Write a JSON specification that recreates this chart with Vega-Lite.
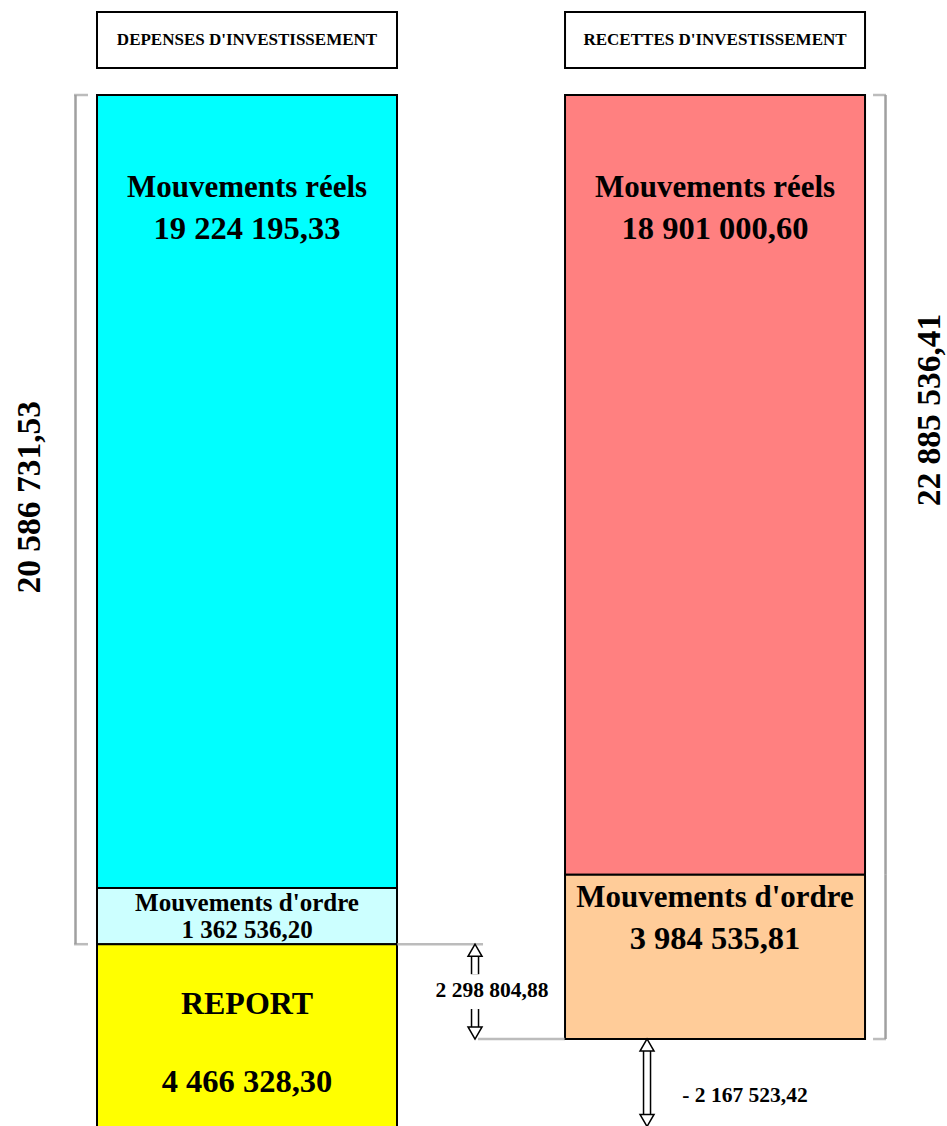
{
  "$schema": "https://vega.github.io/schema/vega-lite/v6.json",
  "width": 947,
  "height": 1126,
  "autosize": "none",
  "padding": 0,
  "background": "white",
  "config": {"view": {"stroke": null}, "font": "Liberation Serif", "text": {"font": "Liberation Serif", "fontWeight": "bold", "color": "black", "baseline": "middle", "align": "center"}},
  "datasets": {
    "segments": [
      {"side": "DEPENSES D'INVESTISSEMENT", "segment": "Mouvements réels", "key": "dep_reels", "order": 1, "value": 19224195.33, "amount": "19 224 195,33"},
      {"side": "DEPENSES D'INVESTISSEMENT", "segment": "Mouvements d'ordre", "key": "dep_ordre", "order": 2, "value": 1362536.20, "amount": "1 362 536,20"},
      {"side": "DEPENSES D'INVESTISSEMENT", "segment": "REPORT", "key": "dep_report", "order": 3, "value": 4466328.30, "amount": "4 466 328,30"},
      {"side": "RECETTES D'INVESTISSEMENT", "segment": "Mouvements réels", "key": "rec_reels", "order": 1, "value": 18901000.60, "amount": "18 901 000,60"},
      {"side": "RECETTES D'INVESTISSEMENT", "segment": "Mouvements d'ordre", "key": "rec_ordre", "order": 2, "value": 3984535.81, "amount": "3 984 535,81"}
    ],
    "totals": [
      {"side": "DEPENSES D'INVESTISSEMENT", "total": 20586731.53, "label": "20 586 731,53"},
      {"side": "RECETTES D'INVESTISSEMENT", "total": 22885536.41, "label": "22 885 536,41"}
    ],
    "gaps": [
      {"name": "ecart", "side": "RECETTES D'INVESTISSEMENT", "from": 20586731.53, "to": 22885536.41, "label": "2 298 804,88"},
      {"name": "solde", "side": "RECETTES D'INVESTISSEMENT", "from": 22885536.41, "to": 25053059.83, "label": "- 2 167 523,42"}
    ]
  },
  "layer": [
    {
      "data": {"name": "segments"},
      "transform": [{"stack": "value", "groupby": ["side"], "sort": [{"field": "order", "order": "ascending"}], "as": ["v0", "v1"]}],
      "mark": {"type": "rect", "stroke": "black", "strokeWidth": 2},
      "encoding": {
        "x": {"field": "side", "type": "nominal", "scale": {"domain": ["DEPENSES D'INVESTISSEMENT", "RECETTES D'INVESTISSEMENT"], "paddingInner": 0.359, "paddingOuter": 0.1912, "align": 0.542}, "axis": null},
        "y": {"field": "v0", "type": "quantitative", "scale": {"domain": [-2303030, 24993940], "reverse": true, "nice": false, "zero": false}, "axis": null},
        "y2": {"field": "v1"},
        "color": {"field": "key", "type": "nominal", "scale": {"domain": ["dep_reels", "dep_ordre", "dep_report", "rec_reels", "rec_ordre"], "range": ["#00FFFF", "#CCFFFF", "#FFFF00", "#FF8080", "#FFCC99"]}, "legend": null}
      }
    },
    {
      "data": {"name": "segments"},
      "transform": [{"stack": "value", "groupby": ["side"], "sort": [{"field": "order", "order": "ascending"}], "as": ["v0", "v1"]}, {"filter": "datum.order == 1"}],
      "mark": {"type": "rect", "fill": "white", "stroke": "black", "strokeWidth": 2, "yOffset": -83, "y2Offset": -27},
      "encoding": {
        "x": {"field": "side", "type": "nominal", "axis": null},
        "y": {"field": "v0", "type": "quantitative", "scale": {"domain": [-2303030, 24993940], "reverse": true, "nice": false, "zero": false}, "axis": null},
        "y2": {"field": "v0"}
      }
    },
    {
      "data": {"name": "segments"},
      "transform": [{"stack": "value", "groupby": ["side"], "sort": [{"field": "order", "order": "ascending"}], "as": ["v0", "v1"]}, {"filter": "datum.order == 1"}],
      "mark": {"type": "text", "fontSize": 17, "yOffset": -55},
      "encoding": {
        "x": {"field": "side", "type": "nominal", "axis": null},
        "y": {"field": "v0", "type": "quantitative", "scale": {"domain": [-2303030, 24993940], "reverse": true, "nice": false, "zero": false}, "axis": null},
        "text": {"field": "side"}
      }
    },
    {
      "data": {"name": "segments"},
      "transform": [{"stack": "value", "groupby": ["side"], "sort": [{"field": "order", "order": "ascending"}], "as": ["v0", "v1"]}, {"filter": "datum.order == 1"}],
      "mark": {"type": "text", "fontSize": 31, "yOffset": 93},
      "encoding": {
        "x": {"field": "side", "type": "nominal", "axis": null},
        "y": {"field": "v0", "type": "quantitative", "scale": {"domain": [-2303030, 24993940], "reverse": true, "nice": false, "zero": false}, "axis": null},
        "text": {"field": "segment"}
      }
    },
    {
      "data": {"name": "segments"},
      "transform": [{"stack": "value", "groupby": ["side"], "sort": [{"field": "order", "order": "ascending"}], "as": ["v0", "v1"]}, {"filter": "datum.order == 1"}],
      "mark": {"type": "text", "fontSize": 32.5, "yOffset": 134},
      "encoding": {
        "x": {"field": "side", "type": "nominal", "axis": null},
        "y": {"field": "v0", "type": "quantitative", "scale": {"domain": [-2303030, 24993940], "reverse": true, "nice": false, "zero": false}, "axis": null},
        "text": {"field": "amount"}
      }
    },
    {
      "data": {"name": "segments"},
      "transform": [{"stack": "value", "groupby": ["side"], "sort": [{"field": "order", "order": "ascending"}], "as": ["v0", "v1"]}, {"filter": "datum.key == 'dep_ordre'"}],
      "mark": {"type": "text", "fontSize": 25, "yOffset": 15},
      "encoding": {
        "x": {"field": "side", "type": "nominal", "axis": null},
        "y": {"field": "v0", "type": "quantitative", "scale": {"domain": [-2303030, 24993940], "reverse": true, "nice": false, "zero": false}, "axis": null},
        "text": {"field": "segment"}
      }
    },
    {
      "data": {"name": "segments"},
      "transform": [{"stack": "value", "groupby": ["side"], "sort": [{"field": "order", "order": "ascending"}], "as": ["v0", "v1"]}, {"filter": "datum.key == 'dep_ordre'"}],
      "mark": {"type": "text", "fontSize": 25, "yOffset": 42},
      "encoding": {
        "x": {"field": "side", "type": "nominal", "axis": null},
        "y": {"field": "v0", "type": "quantitative", "scale": {"domain": [-2303030, 24993940], "reverse": true, "nice": false, "zero": false}, "axis": null},
        "text": {"field": "amount"}
      }
    },
    {
      "data": {"name": "segments"},
      "transform": [{"stack": "value", "groupby": ["side"], "sort": [{"field": "order", "order": "ascending"}], "as": ["v0", "v1"]}, {"filter": "datum.key == 'rec_ordre'"}],
      "mark": {"type": "text", "fontSize": 31, "yOffset": 23},
      "encoding": {
        "x": {"field": "side", "type": "nominal", "axis": null},
        "y": {"field": "v0", "type": "quantitative", "scale": {"domain": [-2303030, 24993940], "reverse": true, "nice": false, "zero": false}, "axis": null},
        "text": {"field": "segment"}
      }
    },
    {
      "data": {"name": "segments"},
      "transform": [{"stack": "value", "groupby": ["side"], "sort": [{"field": "order", "order": "ascending"}], "as": ["v0", "v1"]}, {"filter": "datum.key == 'rec_ordre'"}],
      "mark": {"type": "text", "fontSize": 32.5, "yOffset": 64},
      "encoding": {
        "x": {"field": "side", "type": "nominal", "axis": null},
        "y": {"field": "v0", "type": "quantitative", "scale": {"domain": [-2303030, 24993940], "reverse": true, "nice": false, "zero": false}, "axis": null},
        "text": {"field": "amount"}
      }
    },
    {
      "data": {"name": "segments"},
      "transform": [{"stack": "value", "groupby": ["side"], "sort": [{"field": "order", "order": "ascending"}], "as": ["v0", "v1"]}, {"filter": "datum.key == 'dep_report'"}],
      "mark": {"type": "text", "fontSize": 32, "yOffset": 60},
      "encoding": {
        "x": {"field": "side", "type": "nominal", "axis": null},
        "y": {"field": "v0", "type": "quantitative", "scale": {"domain": [-2303030, 24993940], "reverse": true, "nice": false, "zero": false}, "axis": null},
        "text": {"field": "segment"}
      }
    },
    {
      "data": {"name": "segments"},
      "transform": [{"stack": "value", "groupby": ["side"], "sort": [{"field": "order", "order": "ascending"}], "as": ["v0", "v1"]}, {"filter": "datum.key == 'dep_report'"}],
      "mark": {"type": "text", "fontSize": 32.5, "yOffset": 138},
      "encoding": {
        "x": {"field": "side", "type": "nominal", "axis": null},
        "y": {"field": "v0", "type": "quantitative", "scale": {"domain": [-2303030, 24993940], "reverse": true, "nice": false, "zero": false}, "axis": null},
        "text": {"field": "amount"}
      }
    },
    {
      "data": {"name": "segments"},
      "transform": [{"stack": "value", "groupby": ["side"], "sort": [{"field": "order", "order": "ascending"}], "as": ["v0", "v1"]}, {"filter": "datum.key == 'dep_reels' || datum.key == 'dep_ordre'"}],
      "mark": {"type": "rule", "color": "#a0a0a0", "strokeWidth": 2.5, "xOffset": -171.5},
      "encoding": {
        "x": {"field": "side", "type": "nominal", "axis": null},
        "y": {"field": "v0", "type": "quantitative", "scale": {"domain": [-2303030, 24993940], "reverse": true, "nice": false, "zero": false}, "axis": null},
        "y2": {"field": "v1"}
      }
    },
    {
      "data": {"name": "segments"},
      "transform": [{"stack": "value", "groupby": ["side"], "sort": [{"field": "order", "order": "ascending"}], "as": ["v0", "v1"]}, {"filter": "datum.key == 'rec_reels' || datum.key == 'rec_ordre'"}],
      "mark": {"type": "rule", "color": "#a0a0a0", "strokeWidth": 2.5, "xOffset": 170.5},
      "encoding": {
        "x": {"field": "side", "type": "nominal", "axis": null},
        "y": {"field": "v0", "type": "quantitative", "scale": {"domain": [-2303030, 24993940], "reverse": true, "nice": false, "zero": false}, "axis": null},
        "y2": {"field": "v1"}
      }
    },
    {
      "data": {"name": "segments"},
      "transform": [{"stack": "value", "groupby": ["side"], "sort": [{"field": "order", "order": "ascending"}], "as": ["v0", "v1"]}, {"filter": "datum.key == 'dep_reels'"}],
      "mark": {"type": "tick", "color": "#a0a0a0", "thickness": 2.5, "size": 14, "xOffset": -166, "orient": "horizontal"},
      "encoding": {
        "x": {"field": "side", "type": "nominal", "axis": null},
        "y": {"field": "v0", "type": "quantitative", "scale": {"domain": [-2303030, 24993940], "reverse": true, "nice": false, "zero": false}, "axis": null}
      }
    },
    {
      "data": {"name": "segments"},
      "transform": [{"stack": "value", "groupby": ["side"], "sort": [{"field": "order", "order": "ascending"}], "as": ["v0", "v1"]}, {"filter": "datum.key == 'dep_ordre'"}],
      "mark": {"type": "tick", "color": "#a0a0a0", "thickness": 2.5, "size": 14, "xOffset": -166, "orient": "horizontal"},
      "encoding": {
        "x": {"field": "side", "type": "nominal", "axis": null},
        "y": {"field": "v1", "type": "quantitative", "scale": {"domain": [-2303030, 24993940], "reverse": true, "nice": false, "zero": false}, "axis": null}
      }
    },
    {
      "data": {"name": "segments"},
      "transform": [{"stack": "value", "groupby": ["side"], "sort": [{"field": "order", "order": "ascending"}], "as": ["v0", "v1"]}, {"filter": "datum.key == 'rec_reels'"}],
      "mark": {"type": "tick", "color": "#a0a0a0", "thickness": 2.5, "size": 13, "xOffset": 164.5, "orient": "horizontal"},
      "encoding": {
        "x": {"field": "side", "type": "nominal", "axis": null},
        "y": {"field": "v0", "type": "quantitative", "scale": {"domain": [-2303030, 24993940], "reverse": true, "nice": false, "zero": false}, "axis": null}
      }
    },
    {
      "data": {"name": "segments"},
      "transform": [{"stack": "value", "groupby": ["side"], "sort": [{"field": "order", "order": "ascending"}], "as": ["v0", "v1"]}, {"filter": "datum.key == 'rec_ordre'"}],
      "mark": {"type": "tick", "color": "#a0a0a0", "thickness": 2.5, "size": 13, "xOffset": 164.5, "orient": "horizontal"},
      "encoding": {
        "x": {"field": "side", "type": "nominal", "axis": null},
        "y": {"field": "v1", "type": "quantitative", "scale": {"domain": [-2303030, 24993940], "reverse": true, "nice": false, "zero": false}, "axis": null}
      }
    },
    {
      "data": {"name": "totals"},
      "transform": [{"filter": "datum.total < 21000000"}],
      "mark": {"type": "text", "fontSize": 33.5, "angle": 270, "xOffset": -217, "yOffset": -447},
      "encoding": {
        "x": {"field": "side", "type": "nominal", "axis": null},
        "y": {"field": "total", "type": "quantitative", "scale": {"domain": [-2303030, 24993940], "reverse": true, "nice": false, "zero": false}, "axis": null},
        "text": {"field": "label"}
      }
    },
    {
      "data": {"name": "totals"},
      "transform": [{"filter": "datum.total > 21000000"}],
      "mark": {"type": "text", "fontSize": 33.5, "angle": 270, "xOffset": 215, "yOffset": -629},
      "encoding": {
        "x": {"field": "side", "type": "nominal", "axis": null},
        "y": {"field": "total", "type": "quantitative", "scale": {"domain": [-2303030, 24993940], "reverse": true, "nice": false, "zero": false}, "axis": null},
        "text": {"field": "label"}
      }
    },
    {
      "data": {"name": "gaps"},
      "transform": [{"filter": "datum.name == 'ecart'"}],
      "mark": {"type": "tick", "color": "#a0a0a0", "thickness": 2.5, "size": 86, "xOffset": -275, "orient": "horizontal"},
      "encoding": {
        "x": {"field": "side", "type": "nominal", "axis": null},
        "y": {"field": "from", "type": "quantitative", "scale": {"domain": [-2303030, 24993940], "reverse": true, "nice": false, "zero": false}, "axis": null}
      }
    },
    {
      "data": {"name": "gaps"},
      "transform": [{"filter": "datum.name == 'ecart'"}],
      "mark": {"type": "tick", "color": "#a0a0a0", "thickness": 2.5, "size": 87, "xOffset": -193.5, "orient": "horizontal"},
      "encoding": {
        "x": {"field": "side", "type": "nominal", "axis": null},
        "y": {"field": "to", "type": "quantitative", "scale": {"domain": [-2303030, 24993940], "reverse": true, "nice": false, "zero": false}, "axis": null}
      }
    },
    {
      "data": {"name": "gaps"},
      "transform": [{"filter": "datum.name == 'ecart'"}],
      "mark": {"type": "rule", "color": "black", "strokeWidth": 8.5, "xOffset": -240, "yOffset": 11, "y2Offset": 30},
      "encoding": {
        "x": {"field": "side", "type": "nominal", "axis": null},
        "y": {"field": "from", "type": "quantitative", "scale": {"domain": [-2303030, 24993940], "reverse": true, "nice": false, "zero": false}, "axis": null},
        "y2": {"field": "from"}
      }
    },
    {
      "data": {"name": "gaps"},
      "transform": [{"filter": "datum.name == 'ecart'"}],
      "mark": {"type": "rule", "color": "white", "strokeWidth": 5.5, "xOffset": -240, "yOffset": 9, "y2Offset": 30},
      "encoding": {
        "x": {"field": "side", "type": "nominal", "axis": null},
        "y": {"field": "from", "type": "quantitative", "scale": {"domain": [-2303030, 24993940], "reverse": true, "nice": false, "zero": false}, "axis": null},
        "y2": {"field": "from"}
      }
    },
    {
      "data": {"name": "gaps"},
      "transform": [{"filter": "datum.name == 'ecart'"}],
      "mark": {"type": "rule", "color": "black", "strokeWidth": 8.5, "xOffset": -240, "yOffset": -30, "y2Offset": -11},
      "encoding": {
        "x": {"field": "side", "type": "nominal", "axis": null},
        "y": {"field": "to", "type": "quantitative", "scale": {"domain": [-2303030, 24993940], "reverse": true, "nice": false, "zero": false}, "axis": null},
        "y2": {"field": "to"}
      }
    },
    {
      "data": {"name": "gaps"},
      "transform": [{"filter": "datum.name == 'ecart'"}],
      "mark": {"type": "rule", "color": "white", "strokeWidth": 5.5, "xOffset": -240, "yOffset": -30, "y2Offset": -9},
      "encoding": {
        "x": {"field": "side", "type": "nominal", "axis": null},
        "y": {"field": "to", "type": "quantitative", "scale": {"domain": [-2303030, 24993940], "reverse": true, "nice": false, "zero": false}, "axis": null},
        "y2": {"field": "to"}
      }
    },
    {
      "data": {"name": "gaps"},
      "transform": [{"filter": "datum.name == 'ecart'"}],
      "mark": {"type": "point", "shape": "triangle-up", "size": 196, "filled": true, "fill": "white", "stroke": "black", "strokeWidth": 1.5, "opacity": 1, "xOffset": -240, "yOffset": 6},
      "encoding": {
        "x": {"field": "side", "type": "nominal", "axis": null},
        "y": {"field": "from", "type": "quantitative", "scale": {"domain": [-2303030, 24993940], "reverse": true, "nice": false, "zero": false}, "axis": null}
      }
    },
    {
      "data": {"name": "gaps"},
      "transform": [{"filter": "datum.name == 'ecart'"}],
      "mark": {"type": "point", "shape": "triangle-down", "size": 196, "filled": true, "fill": "white", "stroke": "black", "strokeWidth": 1.5, "opacity": 1, "xOffset": -240, "yOffset": -6},
      "encoding": {
        "x": {"field": "side", "type": "nominal", "axis": null},
        "y": {"field": "to", "type": "quantitative", "scale": {"domain": [-2303030, 24993940], "reverse": true, "nice": false, "zero": false}, "axis": null}
      }
    },
    {
      "data": {"name": "gaps"},
      "transform": [{"filter": "datum.name == 'ecart'"}],
      "mark": {"type": "text", "fontSize": 21.5, "xOffset": -223, "yOffset": 47},
      "encoding": {
        "x": {"field": "side", "type": "nominal", "axis": null},
        "y": {"field": "from", "type": "quantitative", "scale": {"domain": [-2303030, 24993940], "reverse": true, "nice": false, "zero": false}, "axis": null},
        "text": {"field": "label"}
      }
    },
    {
      "data": {"name": "gaps"},
      "transform": [{"filter": "datum.name == 'solde'"}],
      "mark": {"type": "rule", "color": "black", "strokeWidth": 8.5, "xOffset": -68, "yOffset": 11, "y2Offset": -11},
      "encoding": {
        "x": {"field": "side", "type": "nominal", "axis": null},
        "y": {"field": "from", "type": "quantitative", "scale": {"domain": [-2303030, 24993940], "reverse": true, "nice": false, "zero": false}, "axis": null},
        "y2": {"field": "to"}
      }
    },
    {
      "data": {"name": "gaps"},
      "transform": [{"filter": "datum.name == 'solde'"}],
      "mark": {"type": "rule", "color": "white", "strokeWidth": 5.5, "xOffset": -68, "yOffset": 9, "y2Offset": -9},
      "encoding": {
        "x": {"field": "side", "type": "nominal", "axis": null},
        "y": {"field": "from", "type": "quantitative", "scale": {"domain": [-2303030, 24993940], "reverse": true, "nice": false, "zero": false}, "axis": null},
        "y2": {"field": "to"}
      }
    },
    {
      "data": {"name": "gaps"},
      "transform": [{"filter": "datum.name == 'solde'"}],
      "mark": {"type": "point", "shape": "triangle-up", "size": 196, "filled": true, "fill": "white", "stroke": "black", "strokeWidth": 1.5, "opacity": 1, "xOffset": -68, "yOffset": 6},
      "encoding": {
        "x": {"field": "side", "type": "nominal", "axis": null},
        "y": {"field": "from", "type": "quantitative", "scale": {"domain": [-2303030, 24993940], "reverse": true, "nice": false, "zero": false}, "axis": null}
      }
    },
    {
      "data": {"name": "gaps"},
      "transform": [{"filter": "datum.name == 'solde'"}],
      "mark": {"type": "point", "shape": "triangle-down", "size": 196, "filled": true, "fill": "white", "stroke": "black", "strokeWidth": 1.5, "opacity": 1, "xOffset": -68, "yOffset": -8},
      "encoding": {
        "x": {"field": "side", "type": "nominal", "axis": null},
        "y": {"field": "to", "type": "quantitative", "scale": {"domain": [-2303030, 24993940], "reverse": true, "nice": false, "zero": false}, "axis": null}
      }
    },
    {
      "data": {"name": "gaps"},
      "transform": [{"filter": "datum.name == 'solde'"}],
      "mark": {"type": "text", "fontSize": 21.5, "xOffset": 30, "yOffset": -32},
      "encoding": {
        "x": {"field": "side", "type": "nominal", "axis": null},
        "y": {"field": "to", "type": "quantitative", "scale": {"domain": [-2303030, 24993940], "reverse": true, "nice": false, "zero": false}, "axis": null},
        "text": {"field": "label"}
      }
    }
  ]
}
